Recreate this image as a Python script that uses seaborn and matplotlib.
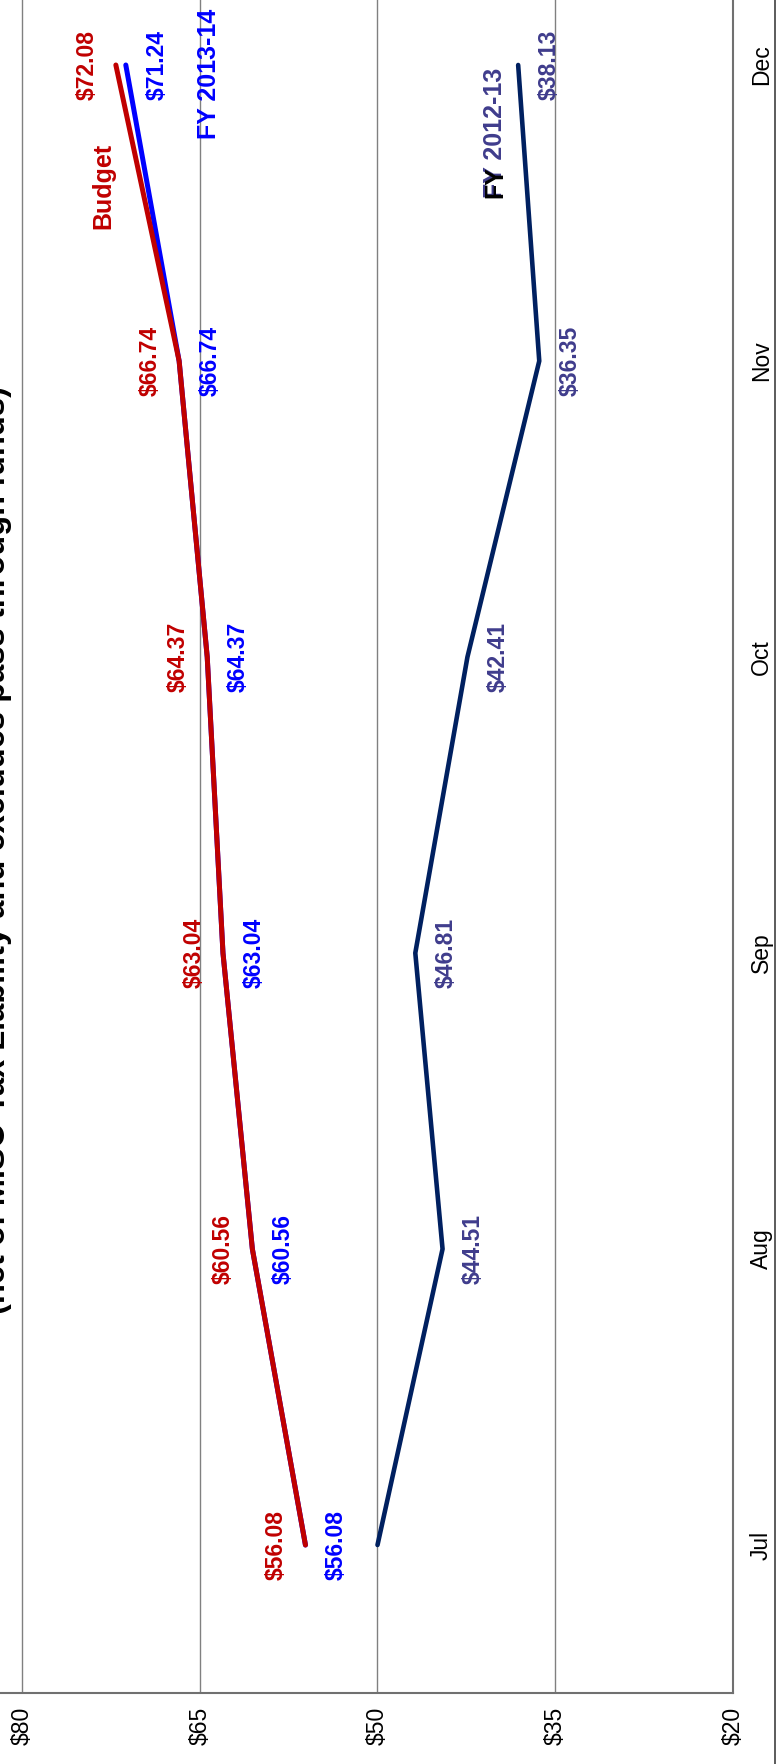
import numpy as np
import pandas as pd
import matplotlib
matplotlib.use("Agg")
import matplotlib.pyplot as plt
import seaborn as sns
from matplotlib.lines import Line2D

# Monthly values (dollars), fiscal months July through December
months = ["Jul", "Aug", "Sep", "Oct", "Nov", "Dec"]
budget = [56.08, 60.56, 63.04, 64.37, 66.74, 72.08]
fy_2013_14 = [56.08, 60.56, 63.04, 64.37, 66.74, 71.24]
fy_2012_13 = [50.00, 44.51, 46.81, 42.41, 36.35, 38.13]
fy_2012_13_labelled = [False, True, True, True, True, True]

value_ticks = [80, 65, 50, 35, 20]
value_tick_labels = ["$80", "$65", "$50", "$35", "$20"]
subtitle = "(net of MISO Tax Liability and excludes pass through funds)"

RED = "#C00000"
BLUE = "#0000FF"
NAVY = "#002060"
NAVY_TEXT = "#3F3C8C"
GRID = "#808080"

sns.set_theme(style="white")
plt.rcParams["font.family"] = ["Liberation Sans", "DejaVu Sans"]

W, H = 776, 1764
fig = plt.figure(figsize=(W / 100, H / 100), dpi=100)

# Page is turned sideways: values run across, months run up the page
ax_left, ax_right = 0, 733
ax_bottom, ax_top = 1693, -83
ax = fig.add_axes([ax_left / W, (H - ax_bottom) / H,
                   (ax_right - ax_left) / W, (ax_bottom - ax_top) / H])

pos = np.arange(len(months))
df = pd.DataFrame({"pos": pos, "Budget": budget,
                   "FY 2013-14": fy_2013_14, "FY 2012-13": fy_2012_13})

line_kw = dict(sort=False, orient="y", estimator=None, ax=ax,
               solid_capstyle="round", legend=False)
sns.lineplot(data=df, x="FY 2012-13", y="pos", color=NAVY, lw=3.3, zorder=3, **line_kw)
sns.lineplot(data=df, x="FY 2013-14", y="pos", color=BLUE, lw=3.6, zorder=4, **line_kw)
sns.lineplot(data=df, x="Budget", y="pos", color=RED, lw=3.6, zorder=5, **line_kw)

lab_kw = dict(textcoords="offset pixels", rotation=90, ha="center", va="center",
              fontsize=16.5, fontweight="bold", zorder=6)
for p, v in zip(pos, budget):
    ax.annotate(f"${v:.2f}", (v, p), xytext=(-29, 0), color=RED, **lab_kw)
for p, v in zip(pos, fy_2013_14):
    ax.annotate(f"${v:.2f}", (v, p), xytext=(31, 0), color=BLUE, **lab_kw)
for p, v, show in zip(pos, fy_2012_13, fy_2012_13_labelled):
    if show:
        ax.annotate(f"${v:.2f}", (v, p), xytext=(31, 0), color=NAVY_TEXT, **lab_kw)

# Series names written beside the lines
name_kw = dict(rotation=90, fontsize=18, fontweight="bold", zorder=6)
ax.text(73.16, 4.59, "Budget", color=RED, ha="center", va="center", **name_kw)
ax.text(64.22, 4.97, "FY 2013-14", color=BLUE, ha="center", va="center", **name_kw)
ax.text(39.49, 4.55, "FY 2012-13", color=NAVY_TEXT, ha="left", va="baseline",
        rotation_mode="anchor", **name_kw)
ax.text(39.49, 4.55, "FY", color="black", ha="left", va="baseline",
        rotation_mode="anchor", **name_kw)

ax.set_xlim(80 + 22 / 11.85, 20)
ax.set_ylim(-0.5, len(months) - 0.5)

ax.set_xticks(value_ticks)
ax.set_xticklabels(value_tick_labels, rotation=90, ha="center", va="top")
ax.set_yticks(pos)
ax.set_yticklabels(months, rotation=90, va="center")
ax.yaxis.tick_right()
ax.tick_params(axis="x", length=0, pad=10, labelsize=16.5, colors="black")
ax.tick_params(axis="y", length=0, pad=12, labelsize=16.5, colors="black")
ax.set_xlabel("")
ax.set_ylabel("")

ax.grid(axis="x", color=GRID, lw=1.0)
ax.grid(axis="y", visible=False)
for side in ("left", "top"):
    ax.spines[side].set_visible(False)
for side in ("bottom", "right"):
    ax.spines[side].set_visible(True)
    ax.spines[side].set_color("#707070")
    ax.spines[side].set_linewidth(1.5)

fig.text(12 / W, 1 - 850 / H, subtitle, rotation=90, ha="right", va="center",
         fontsize=23.5, fontweight="bold", color="black")

fig.add_artist(Line2D([775.3 / W, 775.3 / W], [0, 1], transform=fig.transFigure,
                      color="#404040", lw=1.2))

fig.savefig("out.png", dpi=100, facecolor="white")
